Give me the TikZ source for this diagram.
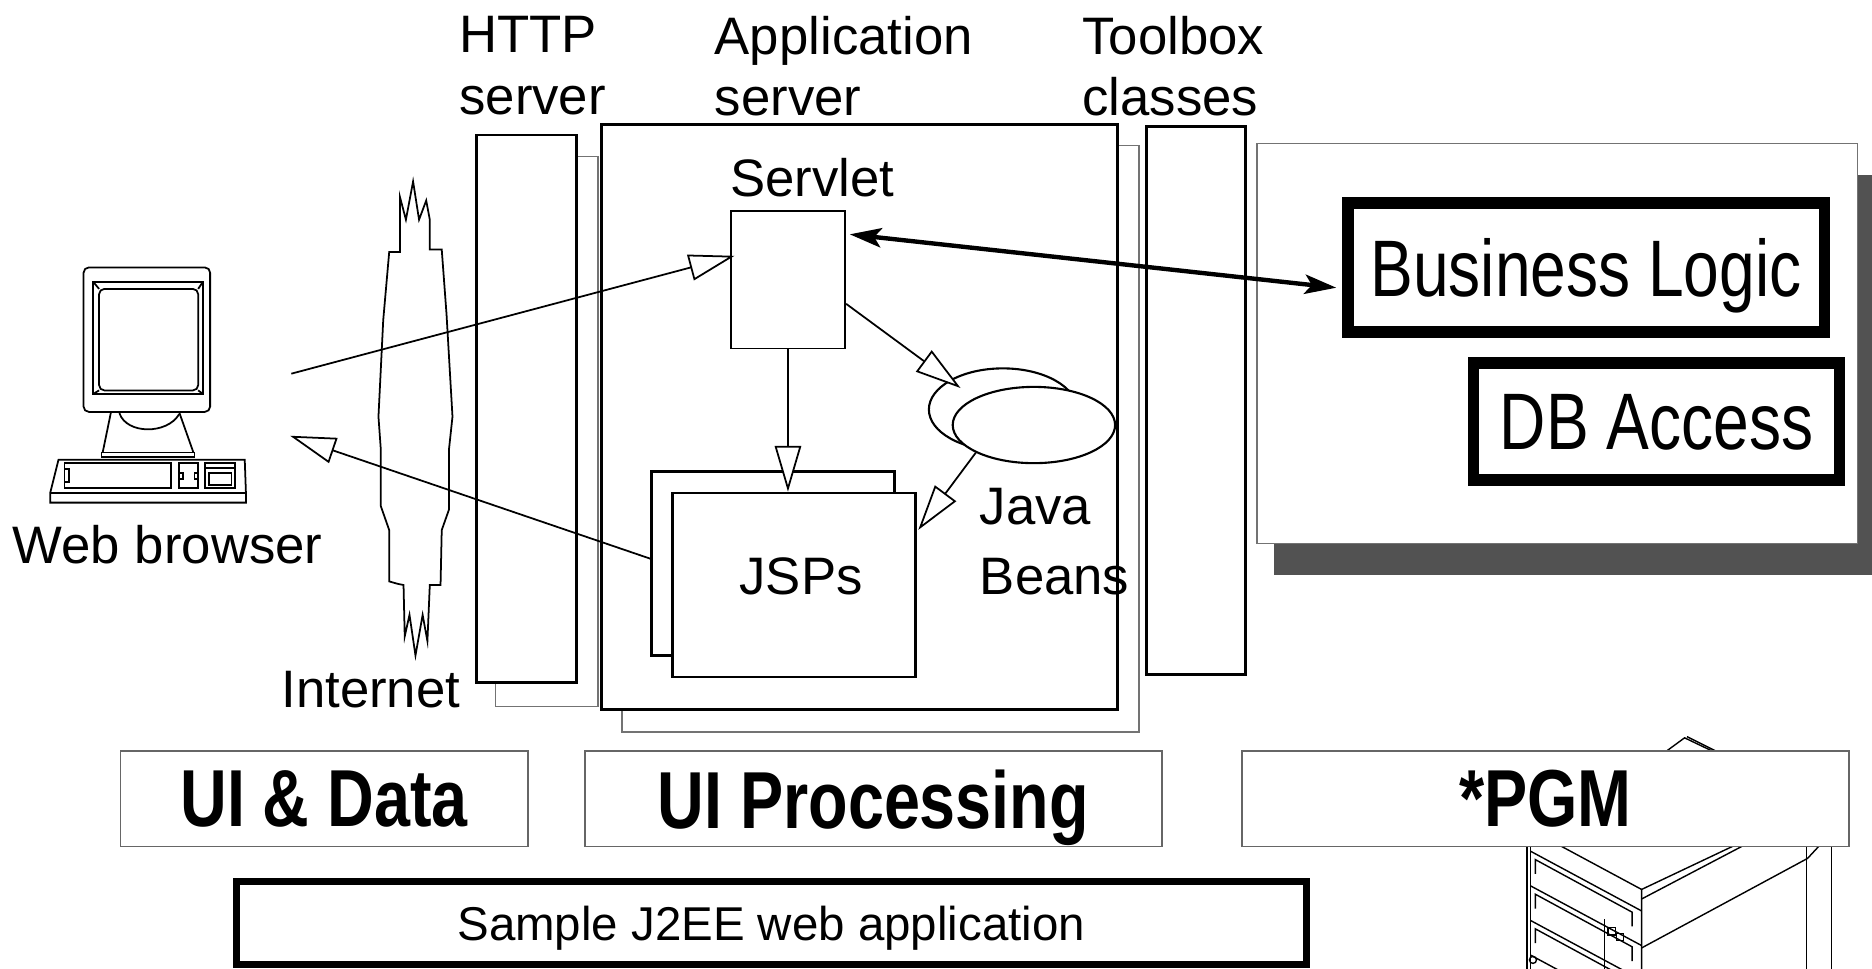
\documentclass[tikz,border=0pt]{standalone}
\usepackage{fontspec}
\setmainfont{Liberation Sans}
\newfontfamily\narrowfont[FakeStretch=0.8]{Liberation Sans}
\newcommand{\lblsize}{\fontsize{15}{17.6}\selectfont}
\usepackage{tikz}
\usetikzlibrary{arrows.meta,shapes.geometric,positioning,fit,calc}
\tikzset{
  every picture/.style = {
    x = 0.11939mm,
    y = -0.11939mm,
    line width = 0.5pt
  }
  ,
  layer/.style = {
    rectangle,
    draw,
    fill = white,
    line width = 0.8pt,
    inner sep = 0pt
  }
  ,
  layer-shadow/.style = {
    rectangle,
    draw = black!55,
    fill = white,
    line width = 0.4pt,
    inner sep = 0pt
  }
  , % names above the layers
  layer-label/.style = {
    font = \lblsize,
    align = left,
    anchor = north west,
    inner sep = 0pt
  }
  ,
  caption/.style = {
    font = \lblsize,
    inner sep = 0pt
  }
  ,
  logic/.style = {
    rectangle,
    draw,
    fill = white,
    line width = 3.2pt,
    inner sep = 0pt
  }
  ,
  logic-text/.style = {
    inner sep = 0pt,
    text depth = 0pt,
    font = \narrowfont\fontsize{22.8}{26}\selectfont
  }
  , % tiers at the bottom
  tier/.style = {
    rectangle,
    draw = black!60,
    fill = white,
    line width = 0.5pt,
    inner sep = 0pt
  }
  ,
  tier-text/.style = {
    inner sep = 0pt,
    text depth = 0pt,
    font = \narrowfont\bfseries\fontsize{23}{27}\selectfont
  }
  ,
  page/.style = {
    rectangle,
    draw,
    fill = white,
    line width = 0.8pt,
    inner sep = 0pt
  }
  ,
  bean/.style = {
    ellipse,
    draw,
    fill = white,
    line width = 0.6pt,
    inner sep = 0pt
  }
  ,
  flow/.style = {
    arrows = {-Triangle[length=13pt, width=7.5pt, fill=white]},
    line width = 0.5pt
  }
  ,
  call/.style = {
    arrows = {Stealth[length=9pt, width=5.5pt, inset=2pt]-Stealth[length=9pt, width=5.5pt, inset=2pt]},
    line width = 1.25pt
  }
}

\begin{document}
\begin{tikzpicture}
  \useasboundingbox (0,0) rectangle (1568,811.6);
  % server box behind the *PGM tier
  \begin{scope}[line width=0.4pt]
    \draw (1396,629) -- (1411,618) -- (1434,629);
    \draw (1413,617) -- (1437,629);
    \draw (1279,700) -- (1279,812);
    \draw (1282,700) -- (1282,812);
    \draw (1282,695) -- (1375,745) -- (1375,812);
    \draw (1375,745) -- (1470,700);
    \draw (1375,753) -- (1476,700);
    \draw (1375,794) -- (1514,719) -- (1527,705);
    \draw (1513,705) -- (1513,812);
    \draw (1534,705) -- (1534,812);
    \foreach \y in {713,742,771,800}
      \draw (1282,\y) -- (1375,\y+50);
    \foreach \y in {720,749,778}
      \draw (1286,\y+12) -- (1286,\y) -- (1367,\y+44) -- (1367,\y+56);
    \draw (1344,770) -- (1344,812);
    \draw (1347,777) rectangle (1353,783);
    \draw (1354,782) rectangle (1360,788);
    \draw (1284,804) circle[radius=1pt];
  \end{scope}

  \node [layer-shadow, fit={(415,131) (501,592)}] (http-back) {};
  \node [layer, fit={(399,113) (483,572)}] (http) {};
  \node [layer-shadow, fit={(521,122) (954,613)}] (app-back) {};
  \node [layer, fit={(504,104) (936,594)}] (app) {};
  \node [layer, fit={(960,106) (1043,565)}] (toolbox) {};
  \node [fill=black!68, inner sep=0pt, fit={(1067,147) (1568,482)}] (biz-shadow) {};
  \node [layer-shadow, fit={(1053,120) (1556,455)}] (biz-area) {};
  \node [logic, fit={(1129,170) (1528,278)}] (biz-logic) {};
  \node [logic-text] (biz-logic-lbl) at (biz-logic.center) {Business Logic};
  \node [logic, fit={(1234,304) (1541,402)}] (db-access) {};
  \node [logic-text] (db-access-lbl) at (db-access.center) {DB Access};

  \node [layer-label] (http-lbl) at (384,12.6) {HTTP\\server};
  \node [layer-label] (app-lbl) at (598,12.6) {Application\\server};
  \node [layer-label] (toolbox-lbl) at (906,12.6) {Toolbox\\classes};

  \node [page, line width=0.5pt, fit={(612,177) (708,292)}] (servlet) {};
  \node [caption, anchor=base west] (servlet-lbl) at (611,165) {Servlet};
  \node [page, fit={(546,395) (749,549)}] (jsp-back) {};
  \node [page, fit={(563,413) (767,567)}] (jsp-front) {};
  \node [caption, anchor=base] (jsp-lbl) at (671,498) {JSPs};
  \node [bean, minimum width=42.1pt, minimum height=23.4pt] (bean-back) at (840,343) {};
  \node [bean, minimum width=46.2pt, minimum height=21.7pt] (bean-front) at (866,356) {};
  \node [layer-label] (bean-lbl) at (820,408) {Java\\[2.4pt]Beans};

  % web browser
  \begin{scope}[line width=0.5pt]
    \draw [rounded corners=1.5pt] (70,224) rectangle (176,345);
    \draw (78,236) rectangle (170,330);
    \draw [rounded corners=1.5pt] (83,242) rectangle (166,327);
    \draw (78,236) -- (83,242) (170,236) -- (166,242) (78,330) -- (83,327) (170,330) -- (166,327);
    \draw (93,345) -- (86,379) (150,345) -- (162,379);
    \draw (100,346) .. controls (106,364) and (140,364) .. (150,347);
    \draw (85,379) rectangle (163,383);
    \draw (49,385) -- (205,385) -- (206,413) -- (206,421) -- (42,421) -- (42,413) -- cycle;
    \draw (42,413) -- (206,413);
    \draw (54,388) -- (143,388) -- (143,409) -- (54,409) -- cycle;
    \draw (54,393) -- (58,393) -- (58,404) -- (54,404);
    \draw (150,388) rectangle (166,409);
    \draw (150,396) -- (153,396) -- (153,401) -- (150,401);
    \draw (166,396) -- (163,396) -- (163,401) -- (166,401);
    \draw (172,388) rectangle (197,409);
    \draw (172,392) -- (197,392);
    \draw (175,396) rectangle (194,406);
  \end{scope}
  \node [caption, anchor=base west] (browser-lbl) at (10,472) {Web browser};

  % internet
  \draw [fill=white] (326,211) -- (335,211) -- (335,165) -- (340,184) -- (346,152) -- (351,184)
    -- (357,168) -- (360,184) -- (360,209) -- (370,209) -- (374,263) -- (379,349) -- (376,377)
    -- (376,427) -- (370,444) -- (369,490) -- (360,490) -- (358,537) -- (354,515) -- (348,549)
    -- (343,515) -- (339,533) -- (338,490) -- (333,489) -- (326,487) -- (326,444) -- (319,424)
    -- (319,377) -- (317,349) -- (321,268) -- cycle;
  \node [caption, anchor=base west] (internet-lbl) at (235,593) {Internet};

  \coordinate (browser-out) at (244,313);
  \coordinate (browser-in) at (243,365);
  \draw [flow] (browser-out) -- ($(servlet.north west)+(4,38)$);
  \draw [flow] ($(jsp-back.west)+(0,-4)$) -- (browser-in);
  \draw [flow] (servlet.south) -- (servlet.south |- jsp-front.north);
  \draw [flow] ($(servlet.east)+(0,20)$) -- ($(bean-back.north west)+(9,7)$);
  \draw [flow] (bean-front.south west) -- ($(jsp-front.north east)+(1,32)$);
  \draw [call] ($(servlet.north east)+(3,20)$) -- ($(biz-logic.west)+(-5,17)$);

  \node [tier, fit={(101,629) (442,709)}] (ui-data) {};
  \node [tier-text] (ui-data-lbl) at (ui-data.center) {UI \& Data};
  \node [tier, fit={(490,629) (973,709)}] (ui-proc) {};
  \node [tier-text] (ui-proc-lbl) at (ui-proc.center) {UI Processing};
  \node [tier, fit={(1040,629) (1549,709)}] (pgm) {};
  \node [tier-text] (pgm-lbl) at (pgm.center) {*PGM};
  \node [rectangle, draw, line width=2pt, inner sep=0pt, fit={(198,738) (1094,808)}] (sample) {};
  \node [inner sep=0pt, text depth=0pt, font=\fontsize{13.5}{16}\selectfont] (sample-lbl) at (sample.center) {Sample J2EE web application};
\end{tikzpicture}
\end{document}
